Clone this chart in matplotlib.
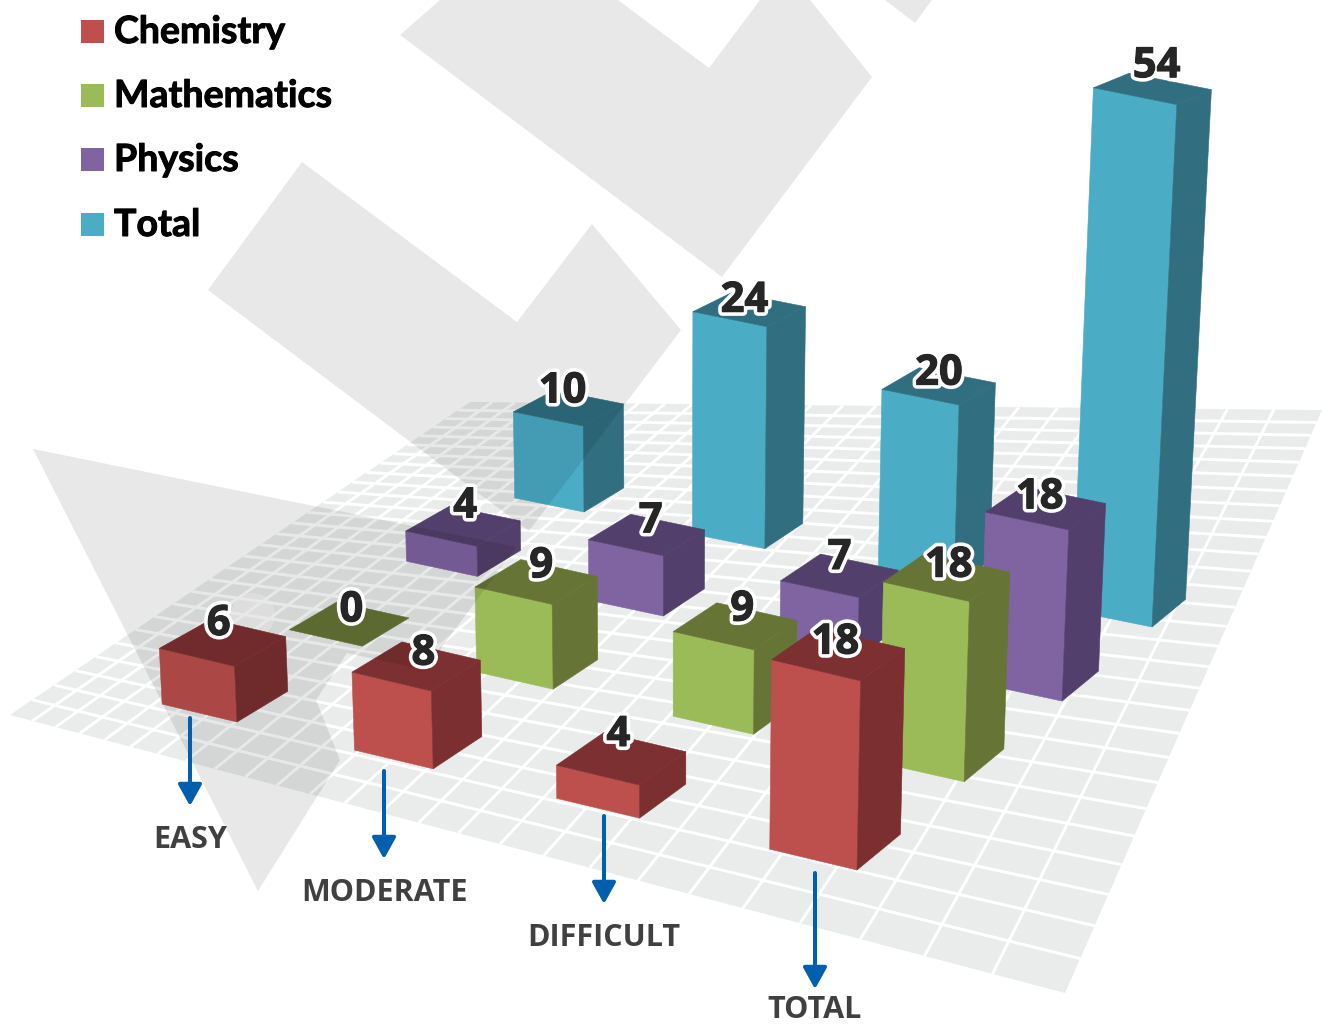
import numpy as np
import matplotlib
matplotlib.use("Agg")
from matplotlib import pyplot as plt
from matplotlib.collections import LineCollection, PolyCollection
from matplotlib.patches import Circle, Polygon, Rectangle
import matplotlib.patheffects as pe

categories = ["EASY", "MODERATE", "DIFFICULT", "TOTAL"]
series = ["Chemistry", "Mathematics", "Physics", "Total"]
chemistry = [6, 8, 4, 18]
mathematics = [0, 9, 9, 18]
physics = [4, 7, 7, 18]
total = [10, 24, 20, 54]
values = [chemistry, mathematics, physics, total]

front_colors = ["#bd504c", "#9bbb59", "#8064a2", "#4bacc6"]
side_colors = ["#7b2f30", "#667536", "#533f6b", "#306e80"]
top_colors = ["#7d3032", "#667536", "#533f6b", "#306e80"]

# where the category arrows and names sit (x, arrow start y, arrow tip y, label y)
arrow_x = [190, 384, 604, 815]
arrow_y0 = [718, 771, 816, 873]
arrow_y1 = [806, 859, 904, 989]
name_y = [840, 893, 938, 1010]
legend_y = [32, 96, 160, 225]

# nudges of the value labels off the bar top centre, one row per series
label_dx = [[-4, 7, -3, -3], [2, 5, 7, 2], [2, 4, 0, -6], [-6, -5, 0, 4]]
label_dy = [[-18, -12, -23, -11], [-13, -15, -16, -11], [-19, -13, -17, -10], [-16, -8, -12, -22]]

def homography(src, dst):
    A = []
    for (x, y), (u, v) in zip(src, dst):
        A.append([x, y, 1, 0, 0, 0, -u*x, -u*y, -u])
        A.append([0, 0, 0, x, y, 1, -v*x, -v*y, -v])
    h = np.linalg.svd(np.array(A, float))[2][-1]
    return (h/h[-1]).reshape(3, 3)

# floor grid, the cells have their own perspective
nx, ny = 26, 28
F = homography([(0, 0), (nx, 0), (nx, ny), (0, ny)], [(10, 715), (1065, 993), (1322, 410), (470, 402)])

# bars: (category, series) -> front right corner on the floor
B = homography([(0, 0), (3, 0), (3, 3), (0, 3)], [(237, 722), (857, 870), (1152, 627), (584, 512)])
bar_w = 0.395
bar_d = 0.395
vanish = np.array([673.0, 10700.0])
unit = 0.00111
depth_fade = 0.054
baseline = 1

def floor_pt(x, y):
    p = F @ np.array([x, y, 1.0])
    return p[:2]/p[2]

def bar_pt(x, y, z=0):
    p = B @ np.array([x, y, 1.0])
    base = p[:2]/p[2]
    t = z*unit*(1 - depth_fade*y)
    return (base - t*vanish)/(1 - t)

fig = plt.figure(figsize=(13.22, 10.25), dpi=100)
ax = fig.add_axes([0, 0, 1, 1])
ax.set_xlim(0, 1322)
ax.set_ylim(1025, 0)
ax.axis("off")

ax.add_patch(Polygon([floor_pt(0, 0), floor_pt(nx, 0), floor_pt(nx, ny), floor_pt(0, ny)], fc="#eaecec", ec="none", zorder=1))
grid = [[floor_pt(i, 0), floor_pt(i, ny)] for i in range(1, nx)] + [[floor_pt(0, j), floor_pt(nx, j)] for j in range(1, ny)]
ax.add_collection(LineCollection(grid, colors="white", linewidths=2.1, zorder=1.2))

# light spot on the floor
ax.add_patch(Circle((253, 615), 22, fc="white", ec="none", alpha=0.45, zorder=1.5))

order = [(i, j) for j in range(3, -1, -1) for i in range(4)]
for i, j in order:
    z = max(values[j][i] - baseline, 0)
    x0, x1, y0, y1 = i - bar_w, i, j, j + bar_d
    zo = 2 + (3-j)*0.1 + i*0.01
    if z > 0:
        ax.add_patch(Polygon([bar_pt(x0, y0), bar_pt(x1, y0), bar_pt(x1, y0, z), bar_pt(x0, y0, z)],
                             fc=front_colors[j], ec=front_colors[j], lw=0.4, zorder=zo))
        ax.add_patch(Polygon([bar_pt(x1, y0), bar_pt(x1, y1), bar_pt(x1, y1, z), bar_pt(x1, y0, z)],
                             fc=side_colors[j], ec=side_colors[j], lw=0.4, zorder=zo))
    ax.add_patch(Polygon([bar_pt(x0, y0, z), bar_pt(x1, y0, z), bar_pt(x1, y1, z), bar_pt(x0, y1, z)],
                         fc=top_colors[j], ec=top_colors[j], lw=0.4, zorder=zo))

# grey shapes laid over the whole thing
shapes = [
    [(400, 35), (722, 277), (872, 77), (810, 0), (810, -20), (760, -20), (760, 0), (709, 68), (618, 0), (618, -20), (425, -20), (440, 0)],
    [(885, 0), (915, 23), (932, 0)],
    [(302, 162), (517, 322), (592, 224), (681, 330), (529, 531), (208, 290)],
    [(33, 449), (516, 547), (425, 670), (347, 653), (316, 700), (340, 760), (258, 891)],
]
ax.add_collection(PolyCollection(shapes, facecolors="black", edgecolors="none", alpha=0.09, zorder=3))

for i, j in order:
    z = max(values[j][i] - baseline, 0)
    cx, cy = bar_pt(i - bar_w/2, j + bar_d/2, z)
    ax.text(cx + label_dx[j][i], cy + label_dy[j][i], str(values[j][i]), family="Open Sans", weight="bold", fontsize=30, color="#262626",
            ha="center", va="center", zorder=5,
            path_effects=[pe.withStroke(linewidth=6, foreground="white"), pe.withStroke(linewidth=0.8, foreground="#262626")])

for n in range(4):
    ax.annotate("", xy=(arrow_x[n], arrow_y1[n]), xytext=(arrow_x[n], arrow_y0[n]),
                arrowprops=dict(arrowstyle="-|>,head_length=0.65,head_width=0.36", color="#0060ad", lw=2.9,
                                mutation_scale=20, shrinkA=0, shrinkB=0), zorder=5)
    ax.text(arrow_x[n], name_y[n], categories[n], family="Open Sans", weight="bold", fontsize=22, color="#404040",
            ha="center", va="center", zorder=5)

for n in range(4):
    ax.add_patch(Rectangle((81, legend_y[n]-12.5), 23, 23, fc=front_colors[n], ec="none", zorder=5))
    ax.text(114, legend_y[n], series[n], family="Lato", weight="bold", fontsize=27, color="black",
            ha="left", va="center", zorder=5,
            path_effects=[pe.withStroke(linewidth=0.7, foreground="black")])

fig.savefig("out.png", dpi=100)
